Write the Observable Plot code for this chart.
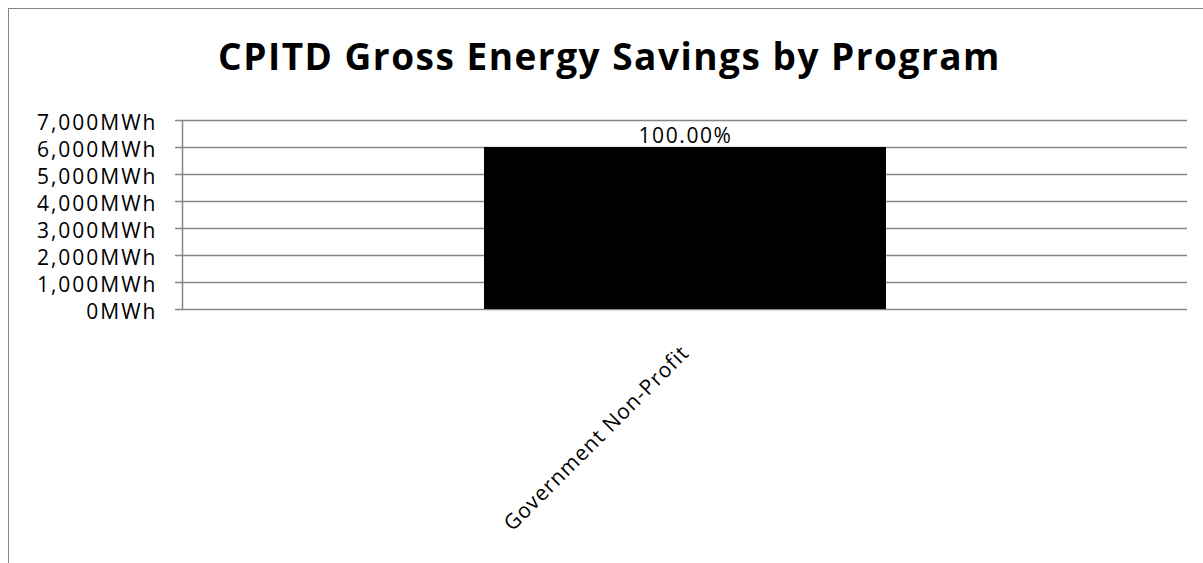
<!DOCTYPE html>
<html>
<head>
<meta charset="utf-8">
<script src="https://cdn.jsdelivr.net/npm/d3@7"></script>
<script src="https://cdn.jsdelivr.net/npm/@observablehq/plot@0.6"></script>
<style>
  html, body { margin: 0; padding: 0; background: #fff; }
  #wrap { position: relative; width: 1203px; height: 563px; overflow: hidden; font-family: "Open Sans", sans-serif; }
  #frame { position: absolute; left: 8px; top: 8px; width: 1300px; height: 700px; border-left: 1.5px solid #868686; border-top: 1.5px solid #868686; }
  #title { position: absolute; left: 0; width: 1203px; text-align: center; font-weight: 700; font-size: 37px; letter-spacing: 1.5px; line-height: 1; top: 37px; color: #000; padding-left: 16px; box-sizing: border-box; white-space: nowrap; }
  #chart { position: absolute; left: 0; top: 100px; }
  .ylab text { letter-spacing: 2px; }
  .xlab text { letter-spacing: 1px; }
  .vlab text { letter-spacing: 1.6px; }
</style>
</head>
<body>
<div id="wrap">
  <div id="frame"></div>
  <div id="title">CPITD Gross Energy Savings by Program</div>
  <div id="chart"></div>
</div>
<script>
const programs = ["Government Non-Profit"];
const savingsMWh = [6000];
const yTicks = [0, 1000, 2000, 3000, 4000, 5000, 6000, 7000];

const total = d3.sum(savingsMWh);
const data = programs.map((p, i) => ({program: p, value: savingsMWh[i], share: savingsMWh[i] / total}));

const gray = "#868686";
const chart = Plot.plot({
  width: 1203,
  height: 463,
  marginLeft: 182,
  marginRight: 16,
  marginTop: 20,
  marginBottom: 254,
  style: {fontFamily: "Open Sans, sans-serif", color: "#000", background: "transparent"},
  x: {domain: programs, paddingInner: 0.5, paddingOuter: 0.375, label: null},
  y: {domain: [0, 7000], label: null},
  marks: [
    Plot.gridY(yTicks, {stroke: gray, strokeOpacity: 1, strokeWidth: 1.5}),
    Plot.barY(data, {x: "program", y: "value", fill: "#000"}),
    Plot.frame({anchor: "left", stroke: gray, strokeWidth: 1.5, strokeOpacity: 1}),
    Plot.axisY(yTicks, {tickSize: 7, stroke: gray, strokeWidth: 1.5, strokeOpacity: 1, text: null, label: null}),
    Plot.axisY(yTicks, {tickSize: 0, tickPadding: 25, tickFormat: d => d3.format(",")(d) + "MWh",
      fontSize: 21, fill: "#000", label: null, dy: 3, className: "ylab"}),
    Plot.axisX({tickSize: 0, tickRotate: -45, tickPadding: 40, fontSize: 21, fill: "#000", label: null, textAnchor: "end", className: "xlab"}),
    Plot.text(data, {x: "program", y: "value", text: d => d3.format(".2%")(d.share), dy: -11, fontSize: 21, fill: "#000", className: "vlab"})
  ]
});
document.getElementById("chart").appendChild(chart);
</script>
</body>
</html>
